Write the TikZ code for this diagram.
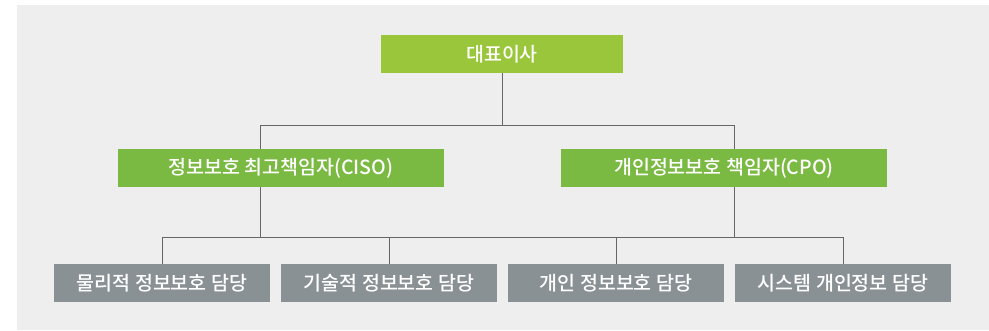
\documentclass[tikz,border=0pt]{standalone}
\usepackage{fontspec}
\setmainfont{Noto Sans CJK KR Medium}
\usetikzlibrary{positioning}
\definecolor{bgpanel}{HTML}{EEEEEE}
\definecolor{headgreen}{HTML}{9AC63B}
\definecolor{midgreen}{HTML}{7AB942}
\definecolor{lowgray}{HTML}{8A9194}
\definecolor{linegray}{HTML}{666666}

\begin{document}
\begin{tikzpicture}[x=1pt,y=-1pt,box/.style={text=white,inner sep=0pt,minimum height=38pt,font=\fontsize{19.5}{21}\selectfont},head/.style={box,fill=headgreen,minimum width=242pt},mid/.style={box,fill=midgreen,minimum width=326pt},low/.style={box,fill=lowgray,minimum width=216pt},ln/.style={draw=linegray,line width=1pt}]
\useasboundingbox (0,0) rectangle (989,330);
\fill[bgpanel] (17,5) rectangle (989,330);
\node[head] (ceo) at (502,54) {대표이사};
\node[mid] (ciso) at (281,168) {정보보호 최고책임자(CISO)};
\node[mid] (cpo) at (724,168) {개인정보보호 책임자(CPO)};
\node[low] (phys) at (162,283) {물리적 정보보호 담당};
\node[low] (tech) at (389,283) {기술적 정보보호 담당};
\node[low] (priv) at (616,283) {개인 정보보호 담당};
\node[low] (sys) at (843,283) {시스템 개인정보 담당};
\coordinate (busL) at (260,125); \coordinate (busR) at (734,125);
\coordinate (legL) at (260,237); \coordinate (legR) at (734,237);
\draw[ln] (ceo.south) -- (ceo.south |- busL);
\draw[ln] (busL) -- (busR);
\draw[ln] (busL) -- (busL |- ciso.north);
\draw[ln] (busR) -- (busR |- cpo.north);
\draw[ln] (busL |- ciso.south) -- (legL);
\draw[ln] (busR |- cpo.south) -- (legR);
\draw[ln] (phys.north |- legL) -- (sys.north |- legL);
\foreach \n in {phys,tech,priv,sys} \draw[ln] (\n.north |- legL) -- (\n.north);
\end{tikzpicture}
\end{document}
